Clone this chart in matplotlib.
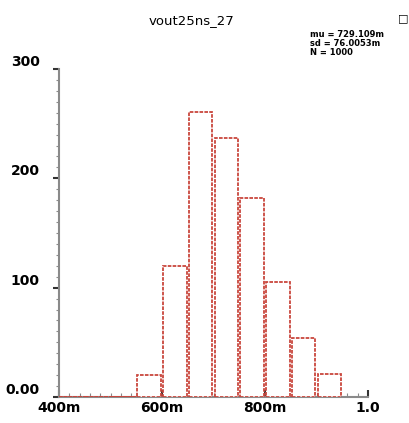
import matplotlib.pyplot as plt
from matplotlib.ticker import MultipleLocator, FixedLocator
import numpy as np

# histogram of vout25ns_27 (bins are 50m wide)
bin_left = [0.40, 0.45, 0.50, 0.55, 0.60, 0.65, 0.70, 0.75, 0.80, 0.85, 0.90]
counts = [0, 0, 0, 20, 120, 261, 237, 182, 105, 54, 21]
x_ticks = [0.4, 0.6, 0.8, 1.0]
x_labels = ["400m", "600m", "800m", "1.0"]
y_ticks = [0, 100, 200, 300]
y_labels = ["0.00", "100", "200", "300"]
title = "vout25ns_27"
stats = "mu = 729.109m\nsd = 76.0053m\nN = 1000"

bar_red = "#c9463d"
axis_gray = "#8a8a8a"

fig = plt.figure(figsize=(4.09, 4.23), dpi=100)
ax = fig.add_axes([0.1443, 0.0615, 0.7555, 0.7754])

bin_w = 0.05
centers = np.array(bin_left) + bin_w / 2
# zero-count bins get full width so the baseline reads as one red line
widths = [bin_w if c == 0 else bin_w * 0.92 for c in counts]
ax.bar(centers, counts, width=widths, facecolor="white",
       edgecolor=bar_red, linewidth=1.3, linestyle=(0, (2, 0.7)), zorder=3)

ax.set_xlim(0.4, 1.0)
ax.set_ylim(0, 300)

for s in ["top", "right"]:
    ax.spines[s].set_visible(False)
for s in ["left", "bottom"]:
    ax.spines[s].set_color(axis_gray)
    ax.spines[s].set_linewidth(1.5)

ax.yaxis.set_major_locator(FixedLocator(y_ticks))
ax.yaxis.set_minor_locator(MultipleLocator(10))
ax.set_yticklabels(y_labels, fontsize=10, fontweight="bold", va="bottom")
ax.tick_params(axis="y", which="major", length=4, width=1.5, color="#333333", pad=10)
ax.tick_params(axis="y", which="minor", length=2.5, width=0.8, color=axis_gray)

ax.xaxis.set_major_locator(FixedLocator(x_ticks))
ax.xaxis.set_minor_locator(MultipleLocator(0.02))
ax.set_xticklabels(x_labels, fontsize=10, fontweight="bold")
ax.tick_params(axis="x", which="major", direction="in", length=5, width=1.5,
               color="#333333", pad=3)
ax.tick_params(axis="x", which="minor", direction="in", length=3, width=0.8,
               color=axis_gray)

fig.text(0.467, 0.952, title, ha="center", va="center", fontsize=9.5)
fig.text(0.758, 0.928, stats, ha="left", va="top", fontsize=6,
         fontweight="bold", linespacing=1.0)
fig.text(0.985, 0.958, "\u25a1", ha="center", va="center", fontsize=8,
         fontweight="bold")

fig.savefig("out.png", dpi=100)
